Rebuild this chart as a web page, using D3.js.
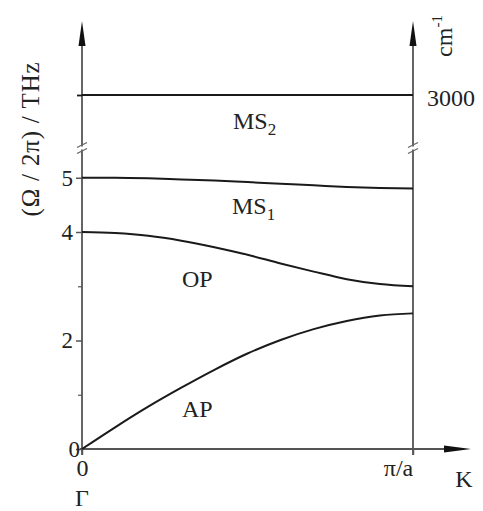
<!DOCTYPE html>
<html lang="en">
<head>
<meta charset="utf-8">
<title>Phonon dispersion</title>
<script src="https://cdn.jsdelivr.net/npm/d3@7"></script>
<style>
  body { margin: 0; background: #fff; }
  text { font-family: "Liberation Serif", "DejaVu Serif", serif; fill: #222; }
</style>
</head>
<body>
<script>
// wave vector in units of pi/a
const kValues = [0, 0.1, 0.2, 0.3, 0.4, 0.5, 0.6, 0.7, 0.8, 0.9, 1.0];
// frequencies, THz
const apBranch  = [0, 0.40, 0.78, 1.13, 1.46, 1.76, 2.01, 2.21, 2.36, 2.46, 2.50];
const opBranch  = [4.00, 3.98, 3.93, 3.84, 3.72, 3.58, 3.42, 3.27, 3.13, 3.04, 3.00];
const ms1Branch = [5.00, 5.00, 4.99, 4.97, 4.95, 4.92, 4.89, 4.86, 4.83, 4.81, 4.80];
// upper (broken) part, cm-1
const ms2Branch = [3000, 3000, 3000, 3000, 3000, 3000, 3000, 3000, 3000, 3000, 3000];

const yMajorTicks = [0, 2, 4, 5];
const yMinorTicks = [1, 3];
const upperTicks = [3000];

const width = 483, height = 511;
const x0 = 82, x1 = 413;
const fs = 24;

const svg = d3.select("body").append("svg")
    .attr("width", width).attr("height", height);

const xScale = d3.scaleLinear().domain([0, 1]).range([x0, x1]);
const yScale = d3.scaleLinear().domain([0, 4]).range([449, 232]);
const yUpper = d3.scaleLinear().domain([2900, 3100]).range([150, 40]);

const axisColor = "#555";
const lineColor = "#1a1a1a";

// vertical axes (left and at pi/a) with arrow heads
[x0, x1].forEach(x => {
  svg.append("line")
      .attr("x1", x).attr("x2", x)
      .attr("y1", 455).attr("y2", 40)
      .attr("stroke", axisColor).attr("stroke-width", 1.8);
  svg.append("path")
      .attr("d", `M${x},21 L${x + 3.5},46 L${x - 3.5},46 Z`)
      .attr("fill", "#111");
  // axis break marks
  [-3, 3].forEach(dy => {
    svg.append("line")
        .attr("x1", x - 5).attr("x2", x + 5)
        .attr("y1", 148 + dy + 2.5).attr("y2", 148 + dy - 2.5)
        .attr("stroke", "#666").attr("stroke-width", 1.3);
  });
});
// white gap between the break marks
[x0, x1].forEach(x => {
  svg.append("line")
      .attr("x1", x).attr("x2", x)
      .attr("y1", 146.5).attr("y2", 149.5)
      .attr("stroke", "#fff").attr("stroke-width", 3);
});

// horizontal axis with arrow head
svg.append("line")
    .attr("x1", x0 - 2).attr("x2", 450)
    .attr("y1", yScale(0)).attr("y2", yScale(0))
    .attr("stroke", axisColor).attr("stroke-width", 1.8);
svg.append("path")
    .attr("d", `M471,${yScale(0)} L444,${yScale(0) - 3.5} L444,${yScale(0) + 3.5} Z`)
    .attr("fill", "#111");

// left axis ticks and labels
const leftAxis = d3.axisLeft(yScale)
    .tickValues(yMajorTicks)
    .tickSize(6).tickPadding(3)
    .tickFormat(d3.format("d"));
const gL = svg.append("g").attr("transform", `translate(${x0},0)`).call(leftAxis);
gL.select(".domain").remove();
gL.selectAll(".tick line").attr("stroke", axisColor).attr("stroke-width", 1.5);
gL.selectAll(".tick text")
    .attr("font-family", "Liberation Serif").attr("font-size", fs - 1).attr("fill", "#222");
gL.selectAll(".tick text").filter(d => d === 0).attr("x", -2);

const minorAxis = d3.axisLeft(yScale).tickValues(yMinorTicks).tickSize(4).tickFormat("");
const gM = svg.append("g").attr("transform", `translate(${x0},0)`).call(minorAxis);
gM.select(".domain").remove();
gM.selectAll(".tick line").attr("stroke", axisColor).attr("stroke-width", 1.2);

const upperAxis = d3.axisLeft(yUpper).tickValues(upperTicks).tickSize(5).tickFormat("");
const gU = svg.append("g").attr("transform", `translate(${x0},0)`).call(upperAxis);
gU.select(".domain").remove();
gU.selectAll(".tick line").attr("stroke", lineColor).attr("stroke-width", 1.8);

// right-hand cm-1 values
const rightAxis = d3.axisRight(yUpper).tickValues(upperTicks).tickSize(0).tickPadding(14)
    .tickFormat(d3.format("d"));
const gR = svg.append("g").attr("transform", `translate(${x1},0)`).call(rightAxis);
gR.select(".domain").remove();
gR.selectAll(".tick text")
    .attr("font-family", "Liberation Serif").attr("font-size", fs).attr("fill", "#222")
    .attr("dy", "0.45em");

// bottom axis ticks
const bottomAxis = d3.axisBottom(xScale)
    .tickValues([0, 1]).tickSize(6).tickPadding(4)
    .tickFormat(d => d === 0 ? "0" : "π/a");
const gB = svg.append("g").attr("transform", `translate(0,${yScale(0)})`).call(bottomAxis);
gB.select(".domain").remove();
gB.selectAll(".tick line").attr("stroke", axisColor).attr("stroke-width", 1.5);
gB.selectAll(".tick text")
    .attr("font-family", "Liberation Serif").attr("font-size", fs).attr("fill", "#222");
gB.selectAll(".tick text").filter(d => d === 1).attr("x", -15);

svg.append("text").attr("x", x0).attr("y", 506)
    .attr("text-anchor", "middle").attr("font-size", fs).text("Γ");
svg.append("text").attr("x", 464).attr("y", 487)
    .attr("text-anchor", "middle").attr("font-size", fs).text("K");

// y axis title
svg.append("text")
    .attr("transform", "translate(39,139) rotate(-90)")
    .attr("text-anchor", "middle").attr("font-size", 25)
    .attr("letter-spacing", 0.8)
    .text("(Ω / 2π) / THz");

// cm-1 unit
const cm = svg.append("text")
    .attr("transform", "translate(452,36) rotate(-90)")
    .attr("text-anchor", "middle").attr("font-size", fs);
cm.append("tspan").text("cm");
cm.append("tspan").attr("font-size", 15).attr("dy", -10).text("-1");

// dispersion branches
const line = d3.line()
    .x((d, i) => xScale(kValues[i]))
    .curve(d3.curveMonotoneX);

[apBranch, opBranch, ms1Branch].forEach(branch => {
  svg.append("path")
      .attr("d", line.y(d => yScale(d))(branch))
      .attr("fill", "none").attr("stroke", lineColor).attr("stroke-width", 2);
});
svg.append("path")
    .attr("d", line.y(d => yUpper(d))(ms2Branch))
    .attr("fill", "none").attr("stroke", lineColor).attr("stroke-width", 2);

// branch labels
const labels = [
  {name: "MS", sub: "2", x: 233, y: 129},
  {name: "MS", sub: "1", x: 232, y: 214},
  {name: "OP", sub: "", x: 182, y: 287},
  {name: "AP", sub: "", x: 182, y: 417}
];
labels.forEach(l => {
  const t = svg.append("text").attr("x", l.x).attr("y", l.y).attr("font-size", fs);
  t.append("tspan").text(l.name);
  if (l.sub) t.append("tspan").attr("font-size", 17).attr("dy", 6).text(l.sub);
});
</script>
</body>
</html>
